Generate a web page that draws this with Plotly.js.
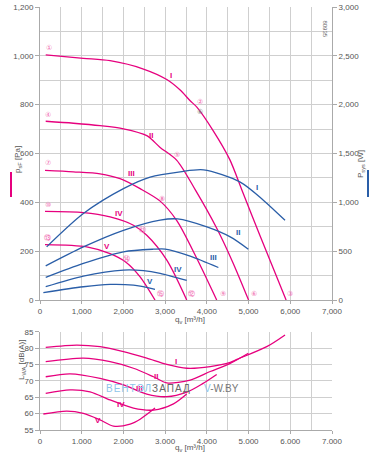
<!DOCTYPE html>
<html><head><meta charset="utf-8">
<script src="https://cdn.plot.ly/plotly-3.0.1.min.js"></script>
<style>html,body{margin:0;padding:0;background:#fff}#c{width:378px;height:459px}</style>
</head><body><div id="c"></div>
<script>
// ---- pressure curves (Pa) ----
const qP1 = [137, 1040, 1680, 2480, 3040, 3360, 3600, 3760, 4150, 4550, 4830, 5270, 5900];
const pP1 = [1004, 990, 980, 946, 903, 860, 816, 790, 694, 575, 455, 265, 0];
const qP2 = [137, 800, 1440, 2000, 2560, 2880, 3280, 3720, 4240, 4620, 5000];
const pP2 = [732, 724, 714, 701, 673, 625, 572, 452, 293, 155, 0];
const qP3 = [120, 800, 1440, 1920, 2400, 2880, 3280, 3760, 4236];
const pP3 = [531, 525, 517, 497, 456, 405, 325, 170, 0];
const qP4 = [120, 1040, 1680, 2240, 2560, 3040, 3517];
const pP4 = [363, 358, 340, 306, 265, 163, 0];
const qP5 = [120, 1120, 1680, 2060, 2400, 2757];
const pP5 = [227, 218, 190, 155, 95, 0];
// ---- power curves (W) ----
const qW1 = [160, 1040, 2000, 2640, 3360, 3920, 4800, 5360, 5874];
const wW1 = [544, 885, 1140, 1258, 1312, 1333, 1207, 1020, 816];
const qW2 = [137, 1040, 2000, 2880, 3300, 4000, 4560, 4995];
const wW2 = [350, 544, 714, 818, 830, 748, 646, 520];
const qW3 = [137, 1040, 2000, 2720, 3000, 3600, 4276];
const wW3 = [231, 374, 493, 520, 522, 450, 333];
const qW4 = [137, 1040, 2000, 2480, 2880, 3517];
const wW4 = [136, 245, 306, 300, 272, 200];
const qW5 = [80, 1040, 1680, 2240, 2757];
const wW5 = [75, 136, 160, 152, 110];
// ---- sound power (dB(A)) ----
const qL1 = [137, 880, 1440, 2000, 2560, 3040, 3520, 4080, 4560, 4720, 5435, 5874];
const lL1 = [80.3, 81.0, 80.5, 79.0, 77.0, 75.1, 73.9, 74.4, 75.7, 76.6, 80.5, 84.1];
const qL2 = [137, 1040, 1680, 2240, 2720, 3040, 3600, 4080, 4560, 4995];
const lL2 = [75.9, 77.0, 75.9, 73.9, 71.3, 69.4, 70.3, 72.9, 75.4, 78.5];
const qL3 = [137, 720, 1440, 2000, 2560, 3040, 3520, 3900, 4236];
const lL3 = [71.3, 72.2, 70.8, 68.8, 66.0, 65.2, 66.6, 69.2, 72.0];
const qL4 = [137, 720, 1200, 1680, 2240, 2720, 3200, 3517];
const lL4 = [66.2, 67.3, 66.7, 64.2, 61.7, 61.1, 63.0, 66.0];
const qL5 = [80, 640, 1040, 1440, 1760, 2160, 2400, 2757];
const lL5 = [59.9, 60.8, 60.1, 58.1, 56.2, 56.8, 58.3, 61.7];

const xTicks = [0,1000,2000,3000,4000,5000,6000,7000];
const xTextTop = ['0','1,000','2,000','3,000','4,000','5,000','6,000','7,000'];
const xTextBot = ['0','1.000','2.000','3.000','4.000','5.000','6.000','7.000'];
const pTicks = [0,200,400,600,800,1000,1200];
const pText = ['0','200','400','600','800','1,000','1,200'];
const wTicks = [0,500,1000,1500,2000,2500,3000];
const wText = ['0','500','1,000','1,500','2,000','2,500','3,000'];
const lTicks = [55,60,65,70,75,80,85];
const romans = ['I','II','III','IV','V'];

const PINK = '#e6007e', BLUE = '#2a5ea8', GRID = '#cfcfcf', TXT = '#555';
const line = (x,y,c,xa,ya) => ({x:x,y:y,xaxis:xa,yaxis:ya,type:'scatter',mode:'lines',
  line:{color:c,width:1.3,shape:'spline',smoothing:0.8},hoverinfo:'skip',showlegend:false});

const data = [
  line(qP1,pP1,PINK,'x','y'), line(qP2,pP2,PINK,'x','y'), line(qP3,pP3,PINK,'x','y'),
  line(qP4,pP4,PINK,'x','y'), line(qP5,pP5,PINK,'x','y'),
  line(qW1,wW1,BLUE,'x','y2'), line(qW2,wW2,BLUE,'x','y2'), line(qW3,wW3,BLUE,'x','y2'),
  line(qW4,wW4,BLUE,'x','y2'), line(qW5,wW5,BLUE,'x','y2'),
  line(qL1,lL1,PINK,'x2','y3'), line(qL2,lL2,PINK,'x2','y3'), line(qL3,lL3,PINK,'x2','y3'),
  line(qL4,lL4,PINK,'x2','y3'), line(qL5,lL5,PINK,'x2','y3')
];

const tf = {family:'Liberation Sans, Arial, sans-serif', size:8, color:TXT};
const ann = [];
function A(x,y,t,c,o){ann.push(Object.assign({x:x,y:y,xref:'x',yref:'y',text:t,showarrow:false,
  font:{family:'Liberation Sans, Arial, sans-serif',size:8,color:c}},o||{}));}
const rP = [[3140,918],[2654,673],[2182,520],[1894,354],[1614,218]];
rP.forEach((p,i)=>A(p[0],p[1],'<b>'+romans[i]+'</b>',PINK));
const rW = [[5195,462*2.5],[4740,276*2.5],[4156,174*2.5],[3317,125*2.5],[2637,75*2.5]];
rW.forEach((p,i)=>A(p[0],p[1],'<b>'+romans[i]+'</b>',BLUE,{yref:'y2'}));
const rL = [[3260,75.9],[2781,71.5],[2381,67.6],[1934,62.9],[1399,57.8]];
rL.forEach((p,i)=>A(p[0],p[1],'<b>'+romans[i]+'</b>',PINK,{xref:'x2',yref:'y3'}));
const circ = [['①',216,1034],['④',200,759],['⑦',200,560],['⑩',200,388],['⑬',176,256],
  ['②',3836,809],['⑤',3277,592],['⑧',2917,415],['⑪',2461,286],['⑭',2062,167],
  ['③',5994,23],['⑥',5131,23],['⑨',4380,23],['⑫',3637,23],['⑮',2877,23]];
circ.forEach(c=>A(c[1],c[2],c[0],'#f06aaf',{font:{family:'DejaVu Sans',size:7,color:'#f06aaf'}}));
A(3836,769,'⑥','#777',{font:{family:'DejaVu Sans',size:7,color:'#777'}});
const P = (x,y,t,o)=>ann.push(Object.assign({x:x,y:y,xref:'paper',yref:'paper',text:t,showarrow:false,
  font:{family:'Liberation Sans, Arial, sans-serif',size:8,color:TXT}},o||{}));
P(-0.0993,0.6383,'p<sub>sF</sub> [Pa]',{textangle:-90});
P(1.1233,0.6667,'P<sub>sys</sub> [W]',{textangle:-90});
P(-0.0856,0.1135,'L<sub>WA</sub> [dB(A)]',{textangle:-90});
P(0.515,0.243,'q<sub>v</sub> [m³/h]');
P(0.515,-0.0600,'q<sub>v</sub> [m³/h]');
P(0.990,0.974,'80935',{textangle:90,font:{family:'Liberation Sans',size:6,color:'#666'}});
P(0.372,0.0804,'<span style="color:#8ec5ea;letter-spacing:1px">ВЕНТЭЛ</span><span style="letter-spacing:1px">ЗАПАД</span>',
  {font:{family:'Liberation Sans, Arial, sans-serif',size:10,color:'#666'}});
P(0.688,0.0804,'<span style="color:#8ec5ea">V</span>-W.BY',
  {font:{family:'Liberation Sans, Arial, sans-serif',size:10,color:'#777'}});

const shapes = [
  {type:'line',xref:'paper',yref:'paper',x0:-0.0993,x1:-0.0993,y0:0.5508,y1:0.6099,line:{color:PINK,width:2}},
  {type:'line',xref:'paper',yref:'paper',x0:1.1233,x1:1.1233,y0:0.5508,y1:0.6147,line:{color:BLUE,width:2}}
];

const axBase = {showline:true,linecolor:'#aaa',linewidth:1,gridcolor:GRID,gridwidth:1,zeroline:false,
  ticks:'outside',ticklen:4,tickcolor:'#aaa',tickfont:tf,fixedrange:true};
const layout = {
  width:378,height:459,margin:{l:40,r:46,t:7,b:29},paper_bgcolor:'#fff',plot_bgcolor:'#fff',
  showlegend:false,
  xaxis:Object.assign({},axBase,{range:[0,7000],tickvals:xTicks,ticktext:xTextTop,anchor:'y',ticklen:3,
    minor:{dtick:500,showgrid:true,gridcolor:GRID}}),
  yaxis:Object.assign({},axBase,{domain:[0.3073,1],range:[0,1200],tickvals:pTicks,ticktext:pText,
    minor:{dtick:100,showgrid:true,gridcolor:GRID}}),
  yaxis2:Object.assign({},axBase,{overlaying:'y',side:'right',anchor:'x',range:[0,3000],tickvals:wTicks,ticktext:wText,showgrid:false}),
  xaxis2:Object.assign({},axBase,{range:[0,7000],tickvals:xTicks,ticktext:xTextBot,anchor:'y3',ticklen:3,
    minor:{dtick:500,showgrid:true,gridcolor:GRID}}),
  yaxis3:Object.assign({},axBase,{domain:[0,0.2317],range:[55,85],tickvals:lTicks,anchor:'x2'}),
  annotations:ann,shapes:shapes
};
Plotly.newPlot('c',data,layout,{staticPlot:true,displayModeBar:false});
</script></body></html>
